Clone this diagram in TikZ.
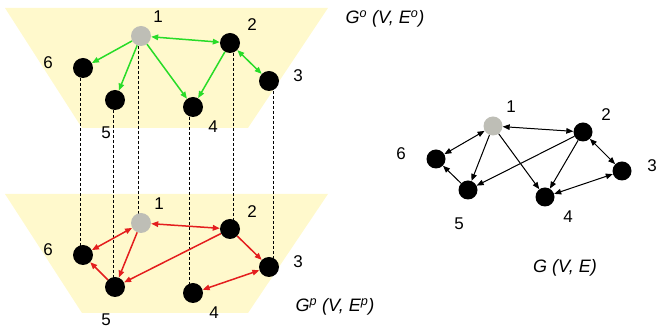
\documentclass[tikz,border=0pt]{standalone}
\usepackage{fontspec}
\setmainfont{Liberation Sans}
\usetikzlibrary{arrows.meta,backgrounds}
\definecolor{plane}{RGB}{255,249,204}
\definecolor{srcgray}{RGB}{190,190,182}
\definecolor{edgegreen}{RGB}{40,220,40}
\definecolor{edgered}{RGB}{228,30,30}
\begin{document}
\begin{tikzpicture}[x=1pt,y=-1pt,
  vtx/.style={circle,fill=black,minimum size=20pt,inner sep=0pt},
  srcvtx/.style={vtx,fill=srcgray},
  smallvtx/.style={vtx,minimum size=19pt},
  smallsrc/.style={smallvtx,fill=srcgray},
  num/.style={font=\fontsize{17}{17}\selectfont},
  title/.style={font=\fontsize{18}{18}\selectfont\itshape},
  tip/.style={-{Triangle[length=7pt,width=5.5pt]}},
  tips/.style={{Triangle[length=7pt,width=5.5pt]}-{Triangle[length=7pt,width=5.5pt]}},
  gline/.style={draw=edgegreen,fill=edgegreen,line width=1.5pt},
  rline/.style={draw=edgered,fill=edgered,line width=1.5pt},
  kline/.style={draw=black,fill=black,line width=1pt},
  link/.style={draw=black,line width=0.6pt,dash pattern=on 3pt off 2pt}]
\useasboundingbox (0,0) rectangle (657,328);

% upper layer G^o
\node[srcvtx] (t1) at (141,36) {};
\node[vtx] (t2) at (230,43) {};
\node[vtx] (t3) at (269,81) {};
\node[vtx] (t4) at (193,107) {};
\node[vtx] (t5) at (115,100) {};
\node[vtx] (t6) at (83,68) {};
\node[num] (lt1) at (158,17) {1};
\node[num] (lt2) at (252,25) {2};
\node[num] (lt3) at (298,76) {3};
\node[num] (lt4) at (213,127) {4};
\node[num] (lt5) at (106,133) {5};
\node[num] (lt6) at (48,63) {6};

% lower layer G^p
\node[srcvtx] (b1) at (141,223) {};
\node[vtx] (b2) at (230,229) {};
\node[vtx] (b3) at (269,267) {};
\node[vtx] (b4) at (193,293) {};
\node[vtx] (b5) at (115,287) {};
\node[vtx] (b6) at (83,255) {};
\node[num] (lb1) at (159,204) {1};
\node[num] (lb2) at (252,212) {2};
\node[num] (lb3) at (298,262) {3};
\node[num] (lb4) at (214,313) {4};
\node[num] (lb5) at (106,320) {5};
\node[num] (lb6) at (48,250) {6};

% planes and vertical links behind the vertices
\begin{scope}[on background layer]
  \fill[plane] (5,8) -- (328,8) -- (248,128) -- (82,128) -- cycle;
  \fill[plane] (5,194) -- (328,194) -- (248,313) -- (82,313) -- cycle;
  \foreach \v/\dx in {1/-3,2/3,3/4,4/-4,5/-2,6/-3}
    \draw[link] ([xshift=\dx pt]t\v.center) -- ([xshift=\dx pt]b\v.center);
\end{scope}

% edges of G^o
\draw[gline,tips] (t1) -- (t2);
\draw[gline,tip] (t1) -- (t6);
\draw[gline,tip] (t1) -- (t5);
\draw[gline,tip] (t1) -- (t4);
\draw[gline,tip] (t2) -- (t4);
\draw[gline,tips] (t2) -- (t3);

% edges of G^p
\draw[rline,tips] (b1) -- (b2);
\draw[rline,tips] (b1) -- (b6);
\draw[rline,tip] (b1) -- (b5);
\draw[rline,tip] (b2) -- (b5);
\draw[rline,tip] (b2) -- (b3);
\draw[rline,tip] (b5) -- (b6);
\draw[rline,tips] (b3) -- (b4);

\node[title] (to) at (385,19) {G\textsuperscript{o} (V, E\textsuperscript{o})};
\node[title] (tp) at (335,307) {G\textsuperscript{p} (V, E\textsuperscript{p})};

% combined graph G
\node[smallsrc] (g1) at (493,126) {};
\node[smallvtx] (g2) at (583,132) {};
\node[smallvtx] (g3) at (622,171) {};
\node[smallvtx] (g4) at (545,197) {};
\node[smallvtx] (g5) at (468,190) {};
\node[smallvtx] (g6) at (436,159) {};
\node[num] (lg1) at (511,107) {1};
\node[num] (lg2) at (606,115) {2};
\node[num] (lg3) at (652,166) {3};
\node[num] (lg4) at (568,217) {4};
\node[num] (lg5) at (459,224) {5};
\node[num] (lg6) at (401,154) {6};

\draw[kline,tips] (g1) -- (g2);
\draw[kline,tips] (g1) -- (g6);
\draw[kline,tip] (g1) -- (g5);
\draw[kline,tip] (g1) -- (g4);
\draw[kline,tip] (g2) -- (g5);
\draw[kline,tip] (g2) -- (g4);
\draw[kline,tips] (g2) -- (g3);
\draw[kline,tip] (g5) -- (g6);
\draw[kline,tips] (g3) -- (g4);

\node[title] (tg) at (565,268) {G (V, E)};
\end{tikzpicture}
\end{document}
